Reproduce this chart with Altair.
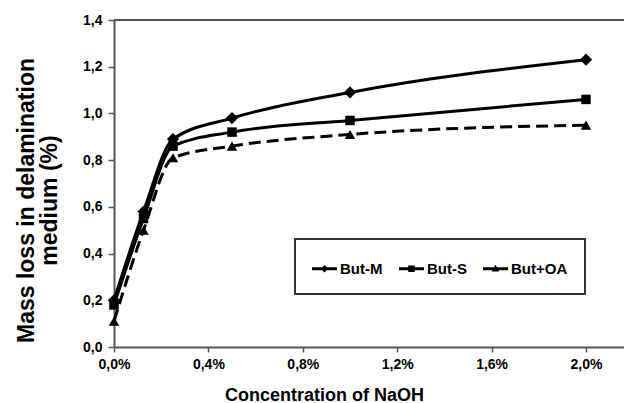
import altair as alt
import pandas as pd

# ---- data ----
conc = [0.0, 0.125, 0.25, 0.5, 1.0, 2.0]
but_m = [0.20, 0.58, 0.89, 0.98, 1.09, 1.23]
but_s = [0.18, 0.55, 0.86, 0.92, 0.97, 1.06]
but_oa = [0.11, 0.50, 0.81, 0.86, 0.91, 0.95]
series_names = ["But-M", "But-S", "But+OA"]
x_ticks = [0.0, 0.4, 0.8, 1.2, 1.6, 2.0]
y_ticks = [0.0, 0.2, 0.4, 0.6, 0.8, 1.0, 1.2, 1.4]

rows = []
for name, vals in zip(series_names, [but_m, but_s, but_oa]):
    for c, v in zip(conc, vals):
        rows.append({"series": name, "conc": c, "loss": v})
df = pd.DataFrame(rows)

FONT = "Liberation Sans"
AXIS_GREY = "#555555"

x_enc = alt.X(
    "conc:Q",
    scale=alt.Scale(domain=[0, 2.161], nice=False, zero=False),
    axis=alt.Axis(
        values=x_ticks,
        labelExpr="replace(format(datum.value, '.1f'), '.', ',') + '%'",
        labelFlush=False,
        title="Concentration of NaOH",
        titleX=210,
        titleY=53,
        titleBaseline="alphabetic",
        titleAnchor="middle",
        titleAlign="center",
        tickSize=5,
        labelPadding=5,
    ),
)
y_enc = alt.Y(
    "loss:Q",
    scale=alt.Scale(domain=[0, 1.4], nice=False),
    axis=alt.Axis(
        values=y_ticks,
        labelExpr="replace(format(datum.value, '.1f'), '.', ',')",
        labelFlush=False,
        title=["Mass loss in delamination", "medium  (%)"],
        titleAngle=-90,
        titleX=-81,
        titleY=180,
        titleBaseline="alphabetic",
        titleAlign="center",
        titleLineHeight=23,
        titleFontSize=23,
        tickSize=6,
        labelPadding=6,
    ),
)

base = alt.Chart(df)

shapes = ["diamond", "square", "triangle-up"]
sizes = [150, 90, 110]
dashes = [None, None, [12, 6]]

layers = []
# top frame line
layers.append(
    alt.Chart(pd.DataFrame({"t": [1.4]}))
    .mark_rule(color=AXIS_GREY, strokeWidth=2)
    .encode(y=alt.datum(1.4))
)
for name, shp, sz, dash in zip(series_names, shapes, sizes, dashes):
    line_kw = dict(color="black", strokeWidth=3, interpolate="monotone")
    if dash is not None:
        line_kw["strokeDash"] = dash
    sub = base.transform_filter(alt.datum.series == name)
    layers.append(sub.mark_line(**line_kw).encode(x=x_enc, y=y_enc))
    layers.append(
        sub.mark_point(filled=True, color="black", shape=shp, size=sz, opacity=1)
        .encode(x=x_enc, y=y_enc)
    )

# legend-only layer (no marks drawn, explicit domain keeps the entries)
BAR = "M-1,-0.12L1,-0.12L1,0.12L-1,0.12Z"
legend_paths = [
    BAR + "M0,-0.3L0.3,0L0,0.3L-0.3,0Z",
    BAR + "M-0.26,-0.26L0.26,-0.26L0.26,0.26L-0.26,0.26Z",
    BAR + "M0,-0.32L0.3,0.22L-0.3,0.22Z",
]
legend_layer = (
    base.transform_filter("false")
    .mark_point(filled=True, color="black", opacity=1)
    .encode(
        x=x_enc,
        y=y_enc,
        shape=alt.Shape(
            "series:N",
            scale=alt.Scale(domain=series_names, range=legend_paths),
            legend=alt.Legend(
                orient="none",
                legendX=181,
                legendY=219,
                direction="horizontal",
                title=None,
                symbolSize=625,
                symbolStrokeWidth=0,
                symbolFillColor="black",
                symbolOpacity=1,
                labelFont=FONT,
                labelFontSize=15,
                labelFontWeight="bold",
                labelColor="black",
                labelOffset=3,
                columnPadding=16,
                padding=17,
                strokeColor="#333333",
                fillColor="white",
            ),
        ),
    )
)
layers.append(legend_layer)

chart = (
    alt.layer(*layers)
    .properties(
        width=510,
        height=327,
        padding={"left": 114, "top": 20, "right": 0, "bottom": 56},
        autosize=alt.AutoSizeParams(type="none"),
        background="white",
    )
    .configure_view(stroke=None)
    .configure_axis(
        grid=False,
        domainColor=AXIS_GREY,
        domainWidth=2,
        tickColor=AXIS_GREY,
        tickWidth=1.5,
        labelFont=FONT,
        labelFontSize=14,
        labelFontWeight="bold",
        labelColor="black",
        titleFont=FONT,
        titleFontSize=18,
        titleFontWeight="bold",
        titleColor="black",
    )
    .configure_legend(strokeWidth=2)
)

chart.save("out.html", embed_options={"renderer": "svg", "actions": False})
